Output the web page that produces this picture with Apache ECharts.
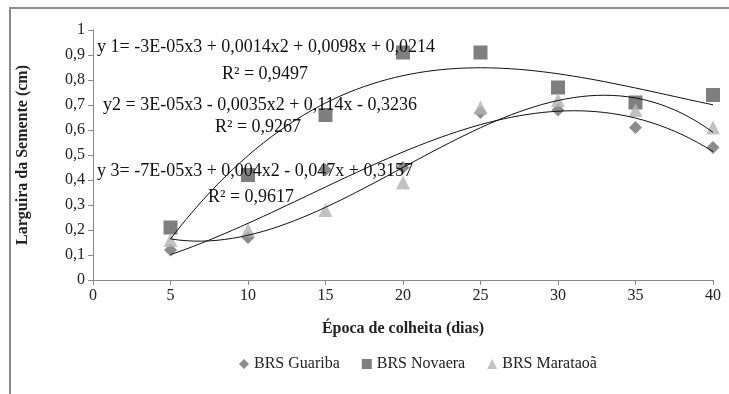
<!DOCTYPE html>
<html><head><meta charset="utf-8">
<script src="https://cdn.jsdelivr.net/npm/echarts@6/dist/echarts.min.js"></script>
<style>html,body{margin:0;padding:0;background:#fff}#c{width:729px;height:394px}</style>
</head><body><div id="c"></div>
<script>
const days = [5, 10, 15, 20, 25, 30, 35, 40];
const guariba = [0.12, 0.17, 0.44, 0.45, 0.67, 0.68, 0.61, 0.53];
const novaera = [0.21, 0.42, 0.66, 0.91, 0.91, 0.77, 0.71, 0.74];
const marataoa = [0.16, 0.20, 0.28, 0.39, 0.69, 0.72, 0.68, 0.61];
const seriesNames = ['BRS Guariba', 'BRS Novaera', 'BRS Marataoã'];
const equations = [
  'y 1= -3E-05x3 + 0,0014x2 + 0,0098x + 0,0214',
  'R² = 0,9497',
  'y2 = 3E-05x3 - 0,0035x2 + 0,114x - 0,3236',
  'R² = 0,9267',
  'y 3= -7E-05x3 + 0,004x2 - 0,047x + 0,3157',
  'R² = 0,9617'
];

function cubicFit(xs, ys) {
  const n = 4;
  const A = [], b = [];
  for (let i = 0; i < n; i++) {
    A.push([]);
    for (let j = 0; j < n; j++) {
      let s = 0; xs.forEach(x => s += Math.pow(x, i + j)); A[i].push(s);
    }
    let t = 0; xs.forEach((x, k) => t += ys[k] * Math.pow(x, i)); b.push(t);
  }
  for (let i = 0; i < n; i++) {
    let p = i;
    for (let r = i + 1; r < n; r++) if (Math.abs(A[r][i]) > Math.abs(A[p][i])) p = r;
    [A[i], A[p]] = [A[p], A[i]]; [b[i], b[p]] = [b[p], b[i]];
    for (let r = i + 1; r < n; r++) {
      const f = A[r][i] / A[i][i];
      for (let c = i; c < n; c++) A[r][c] -= f * A[i][c];
      b[r] -= f * b[i];
    }
  }
  const co = new Array(n).fill(0);
  for (let i = n - 1; i >= 0; i--) {
    let s = b[i];
    for (let c = i + 1; c < n; c++) s -= A[i][c] * co[c];
    co[i] = s / A[i][i];
  }
  return co;
}
function trend(ys) {
  const co = cubicFit(days, ys);
  const pts = [];
  for (let x = days[0]; x <= days[days.length - 1] + 1e-9; x += 0.5) {
    pts.push([x, co[0] + co[1] * x + co[2] * x * x + co[3] * x * x * x]);
  }
  return pts;
}
const pair = ys => days.map((d, i) => [d, ys[i]]);
const serif = '"Liberation Serif", "Times New Roman", serif';
const fmt = v => String(Math.round(v * 10) / 10).replace('.', ',');

const chart = echarts.init(document.getElementById('c'));
const trendLine = (ys) => ({
  type: 'line', data: trend(ys), showSymbol: false, symbol: 'none', smooth: false,
  lineStyle: { color: '#111', width: 1 }, silent: true, z: 5, legendHoverLink: false
});
const eqText = (i, left, top) => ({ type: 'text', left: left, top: top, style: { text: equations[i], font: '18px ' + serif, fill: '#111' }, z: 10 });
chart.setOption({
  animation: false,
  backgroundColor: '#fff',
  grid: { left: 93, right: 16, top: 30, bottom: 114 },
  legend: {
    data: seriesNames, bottom: 17, left: 234, itemGap: 22, itemWidth: 10, itemHeight: 10,
    textStyle: { fontFamily: serif, fontSize: 16, color: '#222' }
  },
  xAxis: {
    type: 'value', min: 0, max: 40, interval: 5,
    name: 'Época de colheita (dias)', nameLocation: 'middle', nameGap: 41,
    nameTextStyle: { fontFamily: serif, fontSize: 16, fontWeight: 'bold', color: '#222' },
    axisLine: { lineStyle: { color: '#8a8a8a', width: 1 } },
    axisTick: { show: true, length: 5, lineStyle: { color: '#8a8a8a' } },
    axisLabel: { fontFamily: serif, fontSize: 16, color: '#222', margin: 8 },
    splitLine: { show: false }
  },
  yAxis: {
    type: 'value', min: 0, max: 1, interval: 0.1,
    name: 'Larguira da Semente (cm)', nameLocation: 'middle', nameGap: 62,
    nameTextStyle: { fontFamily: serif, fontSize: 16, fontWeight: 'bold', color: '#222' },
    axisLine: { show: true, lineStyle: { color: '#8a8a8a', width: 1 } },
    axisTick: { show: true, length: 5, lineStyle: { color: '#8a8a8a' } },
    axisLabel: { fontFamily: serif, fontSize: 16, color: '#222', margin: 8, formatter: fmt },
    splitLine: { show: false }
  },
  series: [
    { name: seriesNames[0], type: 'scatter', data: pair(guariba), symbol: 'diamond', symbolSize: 13, itemStyle: { color: '#6f6f6f' }, z: 3 },
    { name: seriesNames[1], type: 'scatter', data: pair(novaera), symbol: 'rect', symbolSize: 14, itemStyle: { color: '#5f5f5f' }, z: 3 },
    { name: seriesNames[2], type: 'scatter', data: pair(marataoa), symbol: 'triangle', symbolSize: 14, itemStyle: { color: '#b3b3b3' }, z: 4 },
    trendLine(novaera), trendLine(guariba), trendLine(marataoa)
  ],
  graphic: [
    { type: 'rect', shape: { x: 10, y: 8, width: 760, height: 420 }, style: { fill: 'none', stroke: '#8c8c8c', lineWidth: 2 }, z: 0, silent: true },
    eqText(0, 97, 38),
    eqText(1, 222, 65),
    eqText(2, 103, 96),
    eqText(3, 215, 118),
    eqText(4, 97, 162),
    eqText(5, 208, 188)
  ]
});
</script>
</body></html>
